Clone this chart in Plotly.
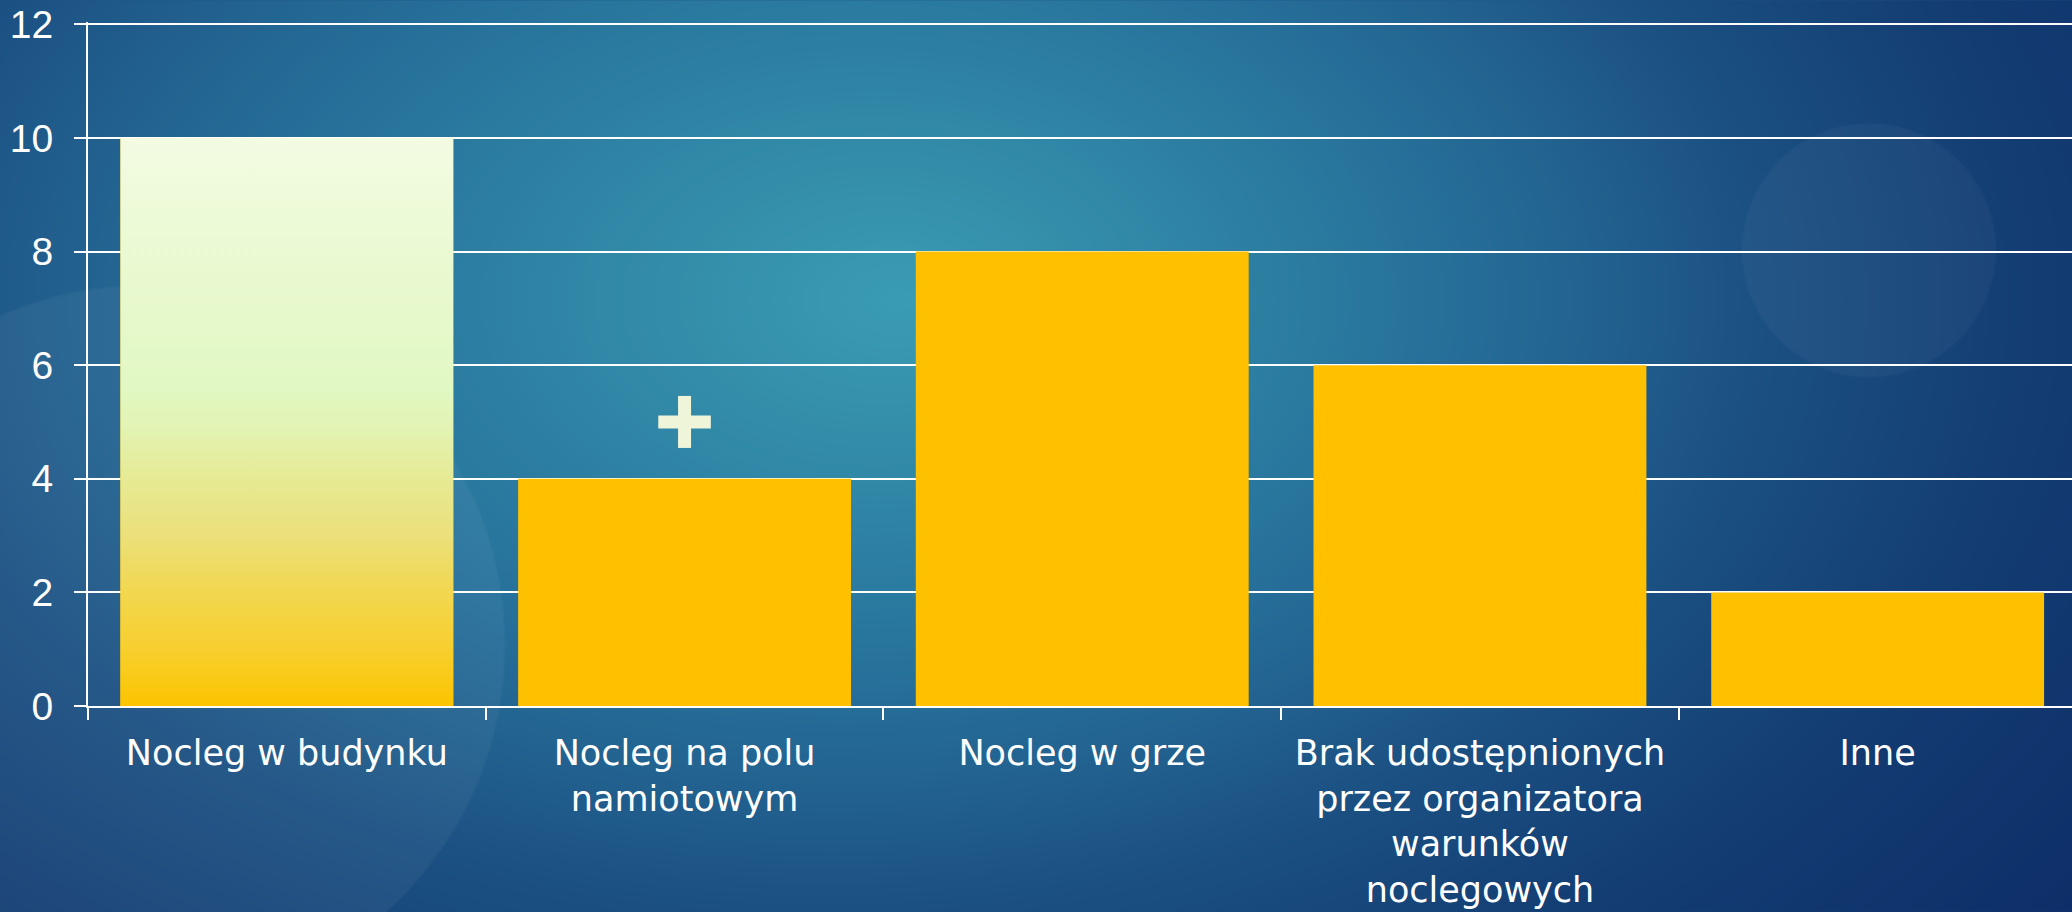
import base64, struct, zlib
import numpy as np
import plotly.graph_objects as go

# ---------------- data ----------------
categories = ["Nocleg w budynku", "Nocleg na polu<br>namiotowym", "Nocleg w grze",
              "Brak udostępnionych<br>przez organizatora<br>warunków<br>noclegowych", "Inne"]
values = [10, 4, 8, 6, 2]
y_ticks = [0, 2, 4, 6, 8, 10, 12]

# ---------------- geometry / style ----------------
W, H = 2072, 912
Y_TOP = 12.04
PX_PER_UNIT = 682 / 12
ML, MR, MB = 88, 0, 206
PH = PX_PER_UNIT * Y_TOP
MT = H - MB - PH
PW = W - ML - MR
CAT_PX = 397.7
BARGAP = 0.163
BAR_COLOR = "#FFC000"
XFONT = "DejaVu Sans"
YFONT = "Liberation Sans"

# ---------------- background picture (gradient + faint circles) ----------------
def make_bg(scale=2):
    w, h = W // scale, H // scale
    xs = (np.arange(w) + 0.5) * scale
    ys = (np.arange(h) + 0.5) * scale
    X, Y = np.meshgrid(xs, ys)
    t = np.sqrt(((X - 900) / 1150) ** 2 + ((Y - 300) / 750) ** 2) + 0.15 * (X / W - 0.5)
    stops = [0, 0.15, 0.5, 0.65, 0.8, 1.05, 1.4]
    cols = ["#3a9bb4", "#348fab", "#26709a", "#22618f", "#1b5082", "#133d73", "#0e2d68"]
    rgb = np.array([[int(c[i:i + 2], 16) for i in (1, 3, 5)] for c in cols], float)
    img = np.stack([np.interp(t, stops, rgb[:, k]) for k in range(3)], axis=-1)
    for cx, cy, r, a in [(145, 645, 360, 0.045), (1869, 250, 127, 0.035)]:
        d = np.sqrt((X - cx) ** 2 + (Y - cy) ** 2)
        m = np.clip((r - d) / 1.5 + 0.5, 0, 1)[..., None] * a
        img = img * (1 - m) + 255 * m
    arr = np.clip(np.round(img), 0, 255).astype(np.int16)
    f = arr.copy()
    f[:, 1:, :] = arr[:, 1:, :] - arr[:, :-1, :]
    f = (f % 256).astype(np.uint8).reshape(h, w * 3)
    raw = b"".join(b"\x01" + f[i].tobytes() for i in range(h))

    def chunk(tag, data):
        return struct.pack(">I", len(data)) + tag + data + struct.pack(">I", zlib.crc32(tag + data) & 0xffffffff)

    png = b"\x89PNG\r\n\x1a\n" + chunk(b"IHDR", struct.pack(">IIBBBBB", w, h, 8, 2, 0, 0, 0)) \
        + chunk(b"IDAT", zlib.compress(raw, 9)) + chunk(b"IEND", b"")
    return "data:image/png;base64," + base64.b64encode(png).decode()

pos = list(range(len(categories)))
bw = 1 - BARGAP

fig = go.Figure()
fig.add_trace(go.Bar(x=pos, y=values, marker=dict(color=BAR_COLOR, line=dict(width=0)),
                     width=bw, hoverinfo="skip"))
# gradient overlay on the first bar
p0, v0 = pos[0], values[0]
fig.add_trace(go.Scatter(
    x=[p0 - bw / 2, p0 + bw / 2, p0 + bw / 2, p0 - bw / 2, p0 - bw / 2],
    y=[0, 0, v0, v0, 0], mode="none", fill="toself", hoverinfo="skip",
    fillgradient=dict(type="vertical", colorscale=[
        [0, "#fcc400"], [0.1, "#f7cf2e"], [0.2, "#f2d74f"], [0.3, "#ebe07a"],
        [0.4, "#e6ea94"], [0.5, "#e2f4b6"], [0.56, "#e1f8c3"], [0.75, "#e8f9cf"], [1, "#f3fbe2"]]),
    showlegend=False))

# plus sign
for hx, hy in [(26.3, 6.5), (6.5, 26)]:
    fig.add_shape(type="rect", xref="x", yref="y", xsizemode="pixel", ysizemode="pixel",
                  xanchor=1, yanchor=5, x0=-hx, x1=hx, y0=-hy, y1=hy,
                  fillcolor="#eef5d9", line=dict(width=0))

fig.add_layout_image(dict(source=make_bg(), xref="paper", yref="paper",
                          x=-ML / PW, y=1 + MT / PH, sizex=W / PW, sizey=H / PH,
                          xanchor="left", yanchor="top", sizing="stretch", layer="below"))

fig.update_layout(
    width=W, height=H, margin=dict(l=ML, r=MR, t=MT, b=MB, autoexpand=False),
    paper_bgcolor="#1d5486", plot_bgcolor="rgba(0,0,0,0)",
    showlegend=False, bargap=BARGAP,
    font=dict(family=XFONT, color="white"),
    xaxis=dict(range=[-0.5, -0.5 + PW / CAT_PX], tickvals=pos, ticktext=categories,
               ticks="", showgrid=False, zeroline=False, showline=True, linecolor="white",
               linewidth=2, tickfont=dict(family=XFONT, size=35, color="white"), automargin=False,
               ticklabelstandoff=15, ticklabeloverflow="allow",
               minor=dict(tick0=-0.5, dtick=1, ticks="outside", ticklen=12, tickwidth=2,
                          tickcolor="white", showgrid=False)),
    yaxis=dict(range=[0, Y_TOP], tickvals=y_ticks, showgrid=True, gridcolor="white", gridwidth=2,
               zeroline=False, showline=True, linecolor="white", linewidth=2,
               ticks="outside", ticklen=12, tickwidth=2, tickcolor="white",
               tickfont=dict(family=YFONT, size=39, color="white"), automargin=False,
               ticklabelstandoff=13, ticklabeloverflow="allow"),
)

fig.write_html("out.html", config={"displayModeBar": False},
               post_script="document.body.style.margin='0';document.body.style.background='#143d73';")
